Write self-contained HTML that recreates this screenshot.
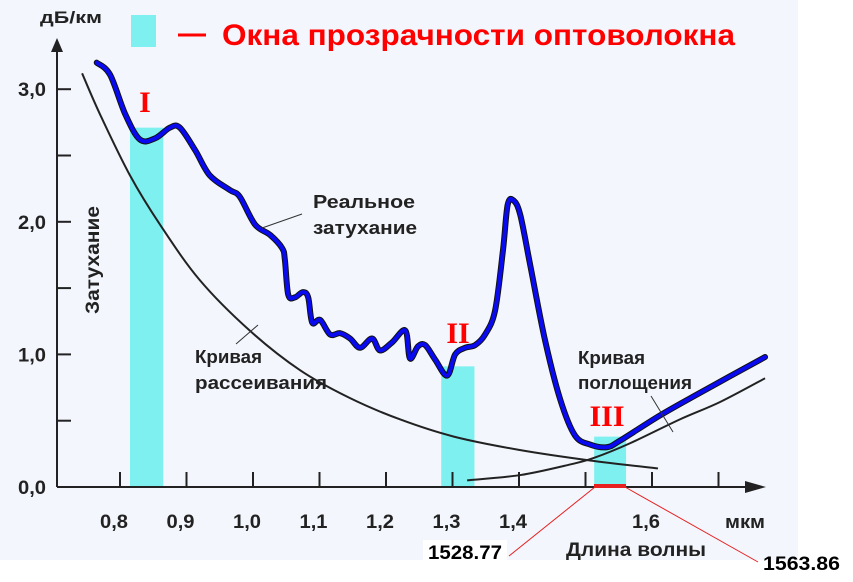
<!DOCTYPE html>
<html><head><meta charset="utf-8"><style>
html,body{margin:0;padding:0;background:#fff}
svg{display:block}
text{font-family:"Liberation Sans",sans-serif;font-weight:bold;fill:#222}
</style></head><body>
<svg id="chart" width="853" height="582" viewBox="0 0 853 582">
<rect x="0" y="0" width="798" height="560" fill="#f3f7fd"/>
<g id="windows"></g>
<g id="axes"></g>
<g id="curves"></g>
<text x="40" y="23" font-size="17" textLength="62" lengthAdjust="spacingAndGlyphs">дБ/км</text>
<text x="725" y="528" font-size="18" textLength="40" lengthAdjust="spacingAndGlyphs">мкм</text>
<text x="566" y="556" font-size="19" textLength="140" lengthAdjust="spacingAndGlyphs">Длина волны</text>
<text transform="translate(99,260) rotate(-90)" font-size="19" text-anchor="middle" textLength="108" lengthAdjust="spacingAndGlyphs">Затухание</text>
<rect x="131" y="15" width="25" height="32" fill="#7ff0f0"/>
<line x1="178" y1="35" x2="206" y2="35" stroke="#f00" stroke-width="3"/>
<text x="222" y="45" font-size="30" textLength="513" lengthAdjust="spacingAndGlyphs" style="fill:#f00">Окна прозрачности оптоволокна</text>
<text x="313" y="208" font-size="18" textLength="102" lengthAdjust="spacingAndGlyphs">Реальное</text>
<text x="313" y="234" font-size="18" textLength="104" lengthAdjust="spacingAndGlyphs">затухание</text>
<line x1="262" y1="228" x2="302" y2="214" stroke="#333"/>
<text x="195" y="363" font-size="18" textLength="67" lengthAdjust="spacingAndGlyphs">Кривая</text>
<text x="195" y="389" font-size="18" textLength="132" lengthAdjust="spacingAndGlyphs">рассеивания</text>
<line x1="236" y1="344" x2="258" y2="325" stroke="#333"/>
<text x="578" y="364" font-size="18" textLength="67" lengthAdjust="spacingAndGlyphs">Кривая</text>
<text x="578" y="389" font-size="18" textLength="114" lengthAdjust="spacingAndGlyphs">поглощения</text>
<line x1="651" y1="396" x2="673" y2="432" stroke="#333"/>
<text x="145" y="112" font-size="30" text-anchor="middle" style="fill:#f00;font-family:'Liberation Serif',serif">I</text>
<text x="458" y="343" font-size="30" text-anchor="middle" style="fill:#f00;font-family:'Liberation Serif',serif">II</text>
<text x="607" y="426" font-size="30" text-anchor="middle" style="fill:#f00;font-family:'Liberation Serif',serif">III</text>
<line x1="594" y1="486" x2="626" y2="486" stroke="#e82020" stroke-width="4"/>
<line x1="595" y1="487" x2="509" y2="556" stroke="#e82020" stroke-width="1"/>
<line x1="625" y1="487" x2="758" y2="562" stroke="#e82020" stroke-width="1"/>
<rect x="423" y="540" width="84" height="22" fill="#fff"/>
<text x="428" y="559" font-size="19" textLength="74" lengthAdjust="spacingAndGlyphs" style="fill:#000">1528.77</text>
<text x="763" y="570" font-size="19" textLength="77" lengthAdjust="spacingAndGlyphs" style="fill:#000">1563.86</text>
</svg>
<script>
const xTicks=[0.8,0.9,1.0,1.1,1.2,1.3,1.4,1.5,1.6,1.7];
const xTickLabels=["0,8","0,9","1,0","1,1","1,2","1,3","1,4","","1,6",""];
const yTicks=[0,0.5,1,1.5,2,2.5,3];
const yTickLabels=["0,0","","1,0","","2,0","","3,0"];
const windowsStart=[0.815,1.283,1.513];
const windowsEnd=[0.865,1.333,1.561];
const windowsTop=[2.71,0.91,0.38];
const realW=[0.765,0.785,0.808,0.830,0.853,0.875,0.890,0.913,0.935,0.965,0.980,1.003,1.026,1.044,1.048,1.053,1.063,1.075,1.083,1.089,1.101,1.116,1.131,1.146,1.161,1.179,1.191,1.209,1.229,1.236,1.248,1.259,1.274,1.292,1.304,1.319,1.334,1.349,1.364,1.376,1.383,1.392,1.402,1.417,1.439,1.462,1.484,1.507,1.532,1.552,1.612,1.672,1.770];
const realV=[3.20,3.11,2.81,2.62,2.63,2.71,2.71,2.54,2.35,2.24,2.19,1.98,1.90,1.80,1.71,1.45,1.43,1.47,1.43,1.24,1.26,1.15,1.16,1.12,1.05,1.12,1.03,1.09,1.18,0.97,1.06,1.07,0.96,0.84,1.00,1.05,1.07,1.15,1.33,1.79,2.13,2.16,2.05,1.67,1.11,0.66,0.39,0.32,0.30,0.35,0.54,0.71,0.98];
const scatW=[0.743,0.770,0.815,0.860,0.920,0.995,1.071,1.146,1.221,1.302,1.400,1.507,1.609];
const scatV=[3.12,2.81,2.35,1.98,1.56,1.18,0.88,0.67,0.51,0.38,0.28,0.20,0.14];
const absW=[1.322,1.402,1.477,1.513,1.567,1.642,1.702,1.770];
const absV=[0.05,0.09,0.17,0.22,0.33,0.51,0.64,0.82];

const NS="http://www.w3.org/2000/svg";
const X0=120,XK=665,Y0=487,YK=132.6;
function sx(w){return X0+(w-0.8)*XK;}
function sy(v){return Y0-v*YK;}
function mk(tag,attrs,parent){const e=document.createElementNS(NS,tag);for(const k in attrs)e.setAttribute(k,attrs[k]);parent.appendChild(e);return e;}
const axes=document.getElementById('axes');
const win=document.getElementById('windows');
const curves=document.getElementById('curves');

for(let i=0;i<windowsStart.length;i++){
  const r=mk('rect',{x:sx(windowsStart[i]),y:sy(windowsTop[i]),width:sx(windowsEnd[i])-sx(windowsStart[i]),height:Y0-sy(windowsTop[i]),fill:'#7ff0f0'},win);
  
  
}
let a=mk('line',{x1:57,y1:Y0,x2:57,y2:50,stroke:'#222','stroke-width':2},axes);


a=mk('polygon',{points:'51,52 63,52 57,38',fill:'#222'},axes);


a=mk('line',{x1:57,y1:Y0,x2:750,y2:Y0,stroke:'#222','stroke-width':2},axes);


a=mk('polygon',{points:'745,481 745,493 766,487',fill:'#222'},axes);


yTicks.forEach((v,i)=>{
  const t=mk('line',{x1:57,y1:sy(v),x2:71,y2:sy(v),stroke:'#222','stroke-width':2},axes);
  
  
  if(yTickLabels[i]){
    const l=mk('text',{x:46,y:sy(v)+7,'font-size':19,'text-anchor':'end',textLength:28,lengthAdjust:'spacingAndGlyphs'},axes);
    l.textContent=yTickLabels[i];
    
    
  }
});
xTicks.forEach((w,i)=>{
  const t=mk('line',{x1:sx(w),y1:Y0,x2:sx(w),y2:Y0-15,stroke:'#222','stroke-width':2},axes);
  
  
  if(xTickLabels[i]){
    const l=mk('text',{x:sx(w)-6,y:528,'font-size':19,'text-anchor':'middle',textLength:28,lengthAdjust:'spacingAndGlyphs'},axes);
    l.textContent=xTickLabels[i];
    
    
  }
});
function smooth(ws,vs){
  const p=ws.map((w,i)=>[sx(w),sy(vs[i])]);
  let d='M'+p[0][0]+','+p[0][1];
  for(let i=0;i<p.length-1;i++){
    const p0=p[Math.max(0,i-1)],p1=p[i],p2=p[i+1],p3=p[Math.min(p.length-1,i+2)];
    const c1=[p1[0]+(p2[0]-p0[0])/6,p1[1]+(p2[1]-p0[1])/6];
    const c2=[p2[0]-(p3[0]-p1[0])/6,p2[1]-(p3[1]-p1[1])/6];
    d+=' C'+c1[0]+','+c1[1]+' '+c2[0]+','+c2[1]+' '+p2[0]+','+p2[1];
  }
  return d;
}
let c=mk('path',{d:smooth(scatW,scatV),fill:'none',stroke:'#222','stroke-width':2},curves);


c=mk('path',{d:smooth(absW,absV),fill:'none',stroke:'#222','stroke-width':2},curves);


c=mk('path',{d:smooth(realW,realV),fill:'none',stroke:'#111','stroke-width':6,'stroke-linejoin':'round','stroke-linecap':'round'},curves);


c=mk('path',{d:smooth(realW,realV),fill:'none',stroke:'#0a0af0','stroke-width':4,'stroke-linejoin':'round','stroke-linecap':'round'},curves);


</script>
</body></html>
